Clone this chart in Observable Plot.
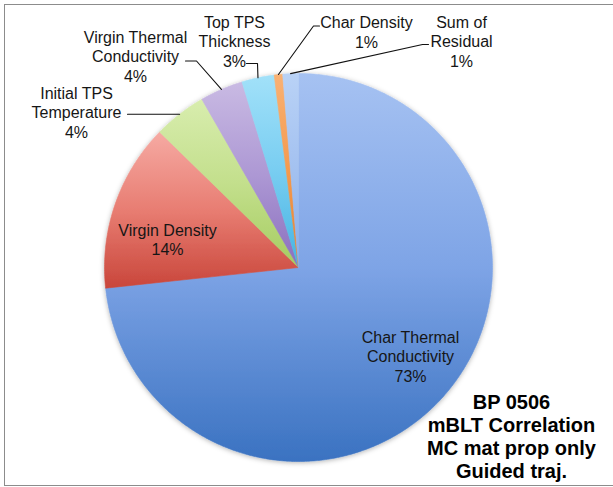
<!DOCTYPE html>
<html><head><meta charset="utf-8">
<script src="https://cdn.jsdelivr.net/npm/d3@7"></script>
<script src="https://cdn.jsdelivr.net/npm/@observablehq/plot@0.6"></script>
<style>
html,body{margin:0;padding:0;background:#fff;overflow:hidden;width:613px;height:487px}
#wrap{position:relative;width:613px;height:487px}
#wrap svg{position:absolute;left:0;top:0}
#frame{position:absolute;left:4px;top:4px;width:700px;height:480px;border:1.5px solid #8c8c8c;pointer-events:none}
</style></head><body><div id="wrap"><div id="frame"></div></div>
<script>
// ---- data ----
const categories = ["Char Thermal Conductivity","Virgin Density","Initial TPS Temperature","Virgin Thermal Conductivity","Top TPS Thickness","Char Density","Sum of Residual"];
const labelLines = [["Char Thermal","Conductivity"],["Virgin Density"],["Initial TPS","Temperature"],["Virgin Thermal","Conductivity"],["Top TPS","Thickness"],["Char Density"],["Sum of","Residual"]];
const shares = [73.3, 14.0, 4.4, 3.6, 2.7, 0.7, 1.3];
const titleLines = ["BP 0506","mBLT Correlation","MC mat prop only","Guided traj."];

// ---- styles ----
const gradTop    = ["#a6c2f2","#f6aaa3","#d8edae","#c9bae3","#a2e1f9","#f9b173","#b9d2f6"];
const gradMid    = ["#7ea4e6","#e87d72","#c3df8c","#ad98d4","#78cdf1","#f49a4e","#a3c1f0"];
const gradBottom = ["#3a72c1","#c9463b","#a5cc60","#8a6fbe","#45b3e2","#e6812f","#8aaee8"];

// ---- layout (pixels) ----
const CX = 298, CY = 267, R = 194;
const labelPos = [ // block centres
  {x:410, y:355.5, inside:true},
  {x:167, y:238.5, inside:true},
  {x:76,  y:111.5},
  {x:135, y:55.5},
  {x:234, y:40.5},
  {x:366, y:31},
  {x:461, y:40.5}
];
const leaderElbows = [
  null, null,
  [[127, null]],
  [[196, 60.5],[185, 60.5]],
  [[257, 63],[246, 63]],
  [[313, 25.5],[319, 25.5]],
  [[422, 44],[428, 44]]
];
const titlePos = {x:511, y:435.5};

const ux = px => (px - CX) / R;
const uy = py => (CY - py) / R;

// ---- geometry from data ----
const total = d3.sum(shares);
let cum = 0;
const slices = shares.map((v, i) => {
  const a0 = cum / total * 2 * Math.PI; cum += v;
  const a1 = cum / total * 2 * Math.PI;
  return {name: categories[i], a0, a1, mid: (a0 + a1) / 2, value: v};
});
const slicePts = [];
slices.forEach(s => {
  slicePts.push({name: s.name, x: 0, y: 0});
  const n = Math.max(2, Math.ceil((s.a1 - s.a0) / (Math.PI / 360)));
  for (let k = 0; k <= n; k++) {
    const a = s.a0 + (s.a1 - s.a0) * k / n;
    slicePts.push({name: s.name, x: Math.sin(a), y: Math.cos(a)});
  }
  slicePts.push({name: s.name, x: 0, y: 0});
});

const labels = slices.map((s, i) => ({
  text: labelLines[i].join("\n") + "\n" + Math.round(s.value) + "%",
  x: ux(labelPos[i].x), y: uy(labelPos[i].y)
}));

const leaderPts = [];
slices.forEach((s, i) => {
  if (!leaderElbows[i]) return;
  const mx = Math.sin(s.mid), my = Math.cos(s.mid);
  leaderPts.push({name: s.name, x: mx, y: my});
  leaderElbows[i].forEach(([px, py]) => leaderPts.push({name: s.name, x: ux(px), y: py == null ? my : uy(py)}));
});

const font = "'Liberation Sans', Arial, Helvetica, sans-serif";

const svg = Plot.plot({
  width: 613, height: 487, margin: 0,
  x: {domain: [-1, 1], range: [CX - R, CX + R], axis: null},
  y: {domain: [-1, 1], range: [CY + R, CY - R], axis: null},
  color: {domain: categories, range: categories.map((d, i) => `url(#slice${i})`)},
  style: {fontFamily: font, background: "transparent", overflow: "visible"},
  marks: [
    Plot.line(slicePts, {x: "x", y: "y", z: "name", fill: "name", stroke: "name", strokeWidth: 0.6, curve: "linear"}),
    Plot.line(leaderPts, {x: "x", y: "y", z: "name", stroke: "#111", strokeWidth: 1.1, curve: "linear"}),
    Plot.text(labels, {x: "x", y: "y", text: "text", fontSize: 16, lineHeight: 1.22, lineAnchor: "middle", textAnchor: "middle", fill: "#161616"}),
    Plot.text([titleLines.join("\n")], {x: ux(titlePos.x), y: uy(titlePos.y), text: d => d, fontSize: 20, fontWeight: "bold", lineHeight: 1.15, lineAnchor: "middle", textAnchor: "middle", fill: "#000"})
  ]
});

const sel = d3.select(svg);
const defs = sel.insert("defs", ":first-child");
categories.forEach((d, i) => {
  const g = defs.append("linearGradient").attr("id", `slice${i}`).attr("x1", 0).attr("y1", 0).attr("x2", 0).attr("y2", 1);
  g.append("stop").attr("offset", "0%").attr("stop-color", gradTop[i]);
  g.append("stop").attr("offset", "50%").attr("stop-color", gradMid[i]);
  g.append("stop").attr("offset", "100%").attr("stop-color", gradBottom[i]);
});
const f = defs.append("filter").attr("id", "pieShadow").attr("x", "-10%").attr("y", "-10%").attr("width", "120%").attr("height", "120%");
f.append("feDropShadow").attr("dx", 0).attr("dy", 1).attr("stdDeviation", 2.5).attr("flood-color", "#000").attr("flood-opacity", 0.3);
const lineGroups = svg.querySelectorAll('g[aria-label="line"]');
if (lineGroups.length) lineGroups[0].setAttribute("filter", "url(#pieShadow)");

document.getElementById("wrap").insertBefore(svg, document.getElementById("frame"));
</script>
</body></html>
